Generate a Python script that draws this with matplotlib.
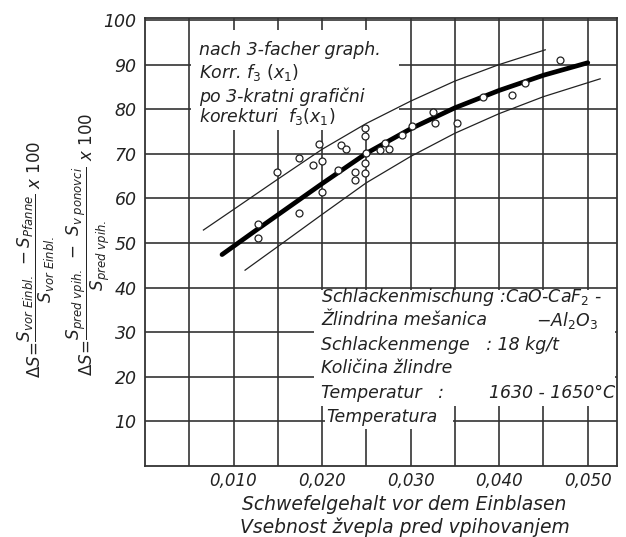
import matplotlib
matplotlib.use('Agg')
import matplotlib.pyplot as plt
from matplotlib.patches import Rectangle

# Messpunkte (Schwefelgehalt vor dem Einblasen, Entschwefelungsgrad)
sx = [0.0128, 0.0128, 0.0149, 0.0174, 0.0174, 0.0190, 0.0197, 0.0200, 0.0200,
      0.0218, 0.0221, 0.0227, 0.0237, 0.0237, 0.0249, 0.0249, 0.0249, 0.0249,
      0.0250, 0.0265, 0.0271, 0.0275, 0.0290, 0.0302, 0.0325, 0.0327, 0.0352,
      0.0382, 0.0414, 0.0429, 0.0469]
sy = [54.2, 51.2, 66.0, 69.0, 56.8, 67.4, 72.2, 68.3, 61.5,
      66.3, 71.9, 71.0, 65.9, 64.2, 75.8, 73.9, 68.0, 65.6,
      70.1, 70.8, 72.3, 71.1, 74.2, 76.2, 79.4, 76.9, 77.0,
      82.8, 83.2, 85.9, 91.0]

# Ausgleichskurve (dick)
mx = [0.0087, 0.0125, 0.015, 0.020, 0.025, 0.030, 0.035, 0.040, 0.045, 0.050]
my = [47.4, 52.8, 56.3, 63.3, 70.1, 75.6, 80.3, 84.2, 87.6, 90.4]

# Streubereich oben / unten
ux = [0.0066, 0.010, 0.015, 0.020, 0.025, 0.030, 0.035, 0.040, 0.0452]
uy = [52.9, 57.5, 64.3, 71.0, 76.8, 81.8, 86.3, 90.0, 93.3]
lx = [0.0113, 0.015, 0.020, 0.025, 0.030, 0.035, 0.040, 0.045, 0.0514]
ly = [43.9, 49.2, 56.4, 63.5, 69.4, 74.6, 79.0, 82.8, 86.8]

x_ticks = [0.010, 0.020, 0.030, 0.040, 0.050]
x_labels = ['0,010', '0,020', '0,030', '0,040', '0,050']
x_grid = [0.005, 0.015, 0.025, 0.035, 0.045]
y_ticks = [10, 20, 30, 40, 50, 60, 70, 80, 90, 100]

ink = '#222222'
plt.rcParams['font.family'] = 'DejaVu Sans'
plt.rcParams['mathtext.fontset'] = 'dejavusans'

fig = plt.figure(figsize=(6.26, 5.37), dpi=100)
ax = fig.add_axes([0.2316, 0.1322, 0.754, 0.834])
ax.set_xlim(0, 0.0533)
ax.set_ylim(0, 100.4)

ax.set_xticks(x_ticks)
ax.set_xticklabels(x_labels, fontstyle='italic', fontsize=12, color=ink)
ax.set_xticks(x_grid, minor=True)
ax.set_yticks(y_ticks)
ax.set_yticklabels([str(v) for v in y_ticks], fontstyle='italic', fontsize=12.5, color=ink)
ax.tick_params(which='both', length=0, pad=6)
ax.tick_params(axis='x', pad=4)
ax.grid(which='both', color='#333333', linewidth=1.2)
ax.set_axisbelow(True)
for s in ax.spines.values():
    s.set_color('#333333')
    s.set_linewidth(1.3)

# weisse Felder fuer die Beschriftungen
ax.add_patch(Rectangle((0.0052, 75.4), 0.0235, 22.4, facecolor='white', edgecolor='none', zorder=1.5))
ax.add_patch(Rectangle((0.0191, 13.5), 0.0340, 26.0, facecolor='white', edgecolor='none', zorder=1.5))
ax.add_patch(Rectangle((0.0203, 8.3), 0.0145, 5.3, facecolor='white', edgecolor='none', zorder=1.5))

ax.plot(ux, uy, color=ink, linewidth=0.9, zorder=3)
ax.plot(lx, ly, color=ink, linewidth=0.9, zorder=3)
ax.plot(mx, my, color='black', linewidth=3.4, solid_capstyle='round', zorder=4)
ax.plot(sx, sy, 'o', markersize=5, markerfacecolor='white', markeredgecolor=ink,
        markeredgewidth=0.9, zorder=5)

tk = dict(fontstyle='italic', fontsize=12.5, color=ink, zorder=6, va='center')
ax.text(0.0061, 93.3, 'nach 3-facher graph.', **tk)
ax.text(0.0061, 88.3, r'Korr. $f_3$ $(x_1)$', **tk)
ax.text(0.0061, 82.7, 'po 3-kratni grafični', **tk)
ax.text(0.0061, 78.3, r'korekturi  $f_3(x_1)$', **tk)

ax.text(0.0199, 37.9, r'Schlackenmischung :CaO-CaF$_2$ -', **tk)
ax.text(0.0199, 32.7, 'Žlindrina mešanica', **tk)
ax.text(0.0512, 32.7, r'$-$Al$_2$O$_3$', ha='right', **tk)
ax.text(0.0199, 27.1, 'Schlackenmenge   : 18 kg/t', **tk)
ax.text(0.0199, 22.0, 'Količina žlindre', **tk)
ax.text(0.0199, 16.4, 'Temperatur   :', **tk)
ax.text(0.0531, 16.4, '1630 - 1650°C', ha='right', **tk)
ax.text(0.0205, 11.0, 'Temperatura', **tk)

xl = dict(ha='center', va='center', fontstyle='italic', fontsize=13.5, color=ink)
fig.text(0.645, 0.060, 'Schwefelgehalt vor dem Einblasen', **xl)
fig.text(0.647, 0.018, 'Vsebnost žvepla pred vpihovanjem', **xl)

fig.text(0.058, 0.518,
         r'$\Delta S\!=\!\dfrac{S_{vor\ Einbl.}\ -S_{Pfanne}}{S_{vor\ Einbl.}}\ x\ 100$',
         rotation=90, ha='center', va='center', fontsize=12, color=ink)
fig.text(0.142, 0.544,
         r'$\Delta S\!=\!\dfrac{S_{pred\ vpih.}\ -\ S_{v\ ponovci}}{S_{pred\ vpih.}}\ x\ 100$',
         rotation=90, ha='center', va='center', fontsize=12, color=ink)

fig.savefig('out.png', dpi=100)
